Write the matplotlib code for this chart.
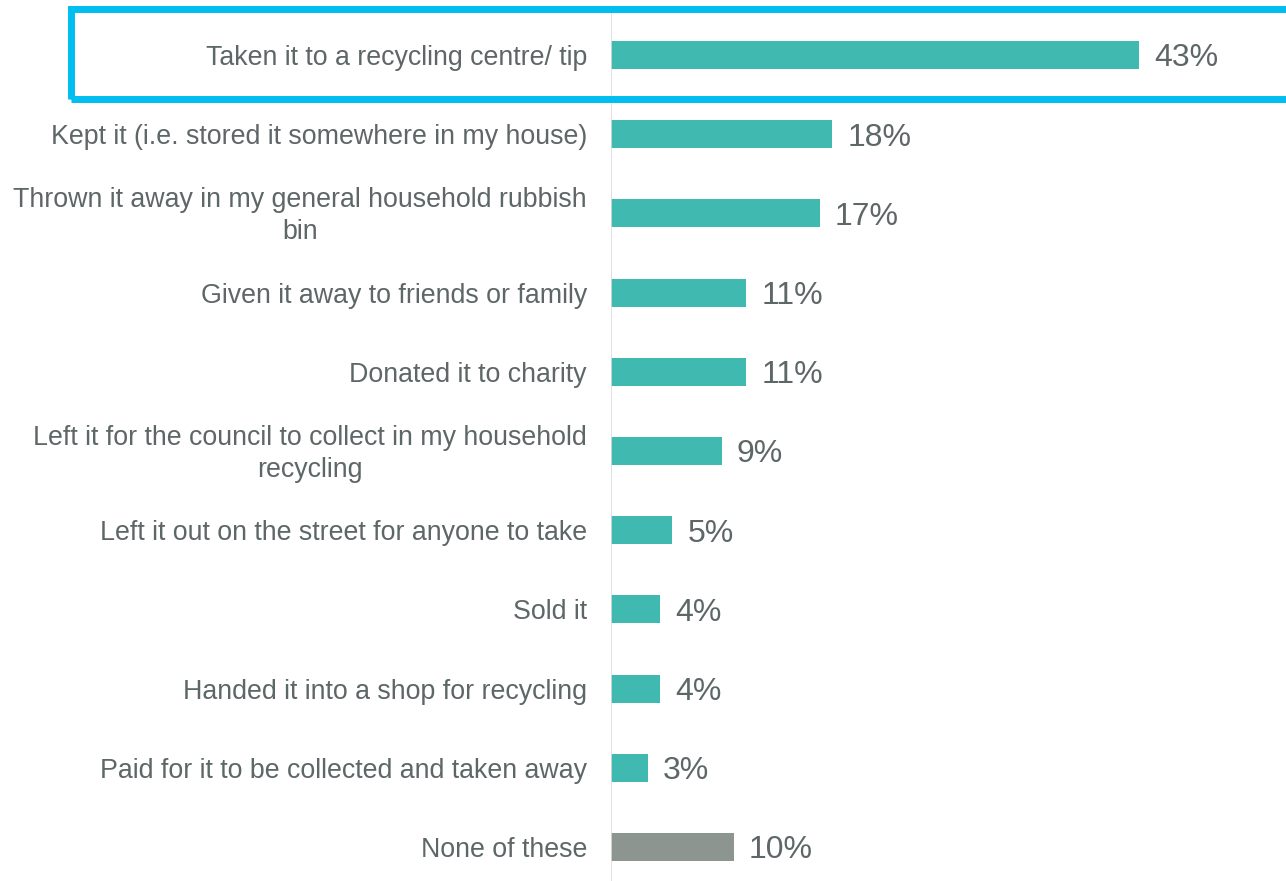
import numpy as np
import matplotlib.pyplot as plt
from matplotlib.patches import Rectangle

plt.rcParams['font.family'] = ['Liberation Sans', 'DejaVu Sans']

# answers and shares (%)
labels = [
    'Taken it to a recycling centre/ tip',
    'Kept it (i.e. stored it somewhere in my house)',
    'Thrown it away in my general household rubbish\nbin',
    'Given it away to friends or family',
    'Donated it to charity',
    'Left it for the council to collect in my household\nrecycling',
    'Left it out on the street for anyone to take',
    'Sold it',
    'Handed it into a shop for recycling',
    'Paid for it to be collected and taken away',
    'None of these',
]
values = [43, 18, 17, 11, 11, 9, 5, 4, 4, 3, 10]

teal = '#40BAB0'
grey = '#8C958F'
text_col = '#5E6767'
colors = [teal] * 10 + [grey]

W, H = 1286, 881
fig = plt.figure(figsize=(W / 100, H / 100), dpi=100)
ax = fig.add_axes([611 / W, 0, 1 - 611 / W, 1])

y = np.arange(len(labels))
ax.barh(y, values, height=0.355, color=colors)

# pixel scale: 0 at x=611, 43% at x=1139
px_per = (1139 - 611) / 43
ax.set_xlim(0, (W - 611) / px_per)
top_c, step = 55, 79.2
ax.set_ylim((H - top_c) / step, -top_c / step)

for i, (lab, v) in enumerate(zip(labels, values)):
    ax.annotate(lab, (0, i), xytext=(-17.3, -2.2), textcoords='offset points',
                ha='right', va='center', multialignment='center',
                fontsize=19.3, color=text_col, linespacing=1.3)
    ax.annotate(f'{v}%', (v, i), xytext=(11, -2.5), textcoords='offset points',
                ha='left', va='center', fontsize=23, color=text_col)

ax.axvline(0, ymin=0, ymax=1 - 12 / H, color='#DCDCDC', lw=1.2)
for s in ax.spines.values():
    s.set_visible(False)
ax.set_xticks([])
ax.set_yticks([])

# highlight box around the top answer
fig.patches.append(Rectangle((70.5 / W, 1 - 98.5 / H), 1.05 - 70.5 / W, 89 / H,
                             transform=fig.transFigure, fill=False,
                             edgecolor='#00BEF0', lw=5, clip_on=False))

fig.savefig('out.png', dpi=100)
